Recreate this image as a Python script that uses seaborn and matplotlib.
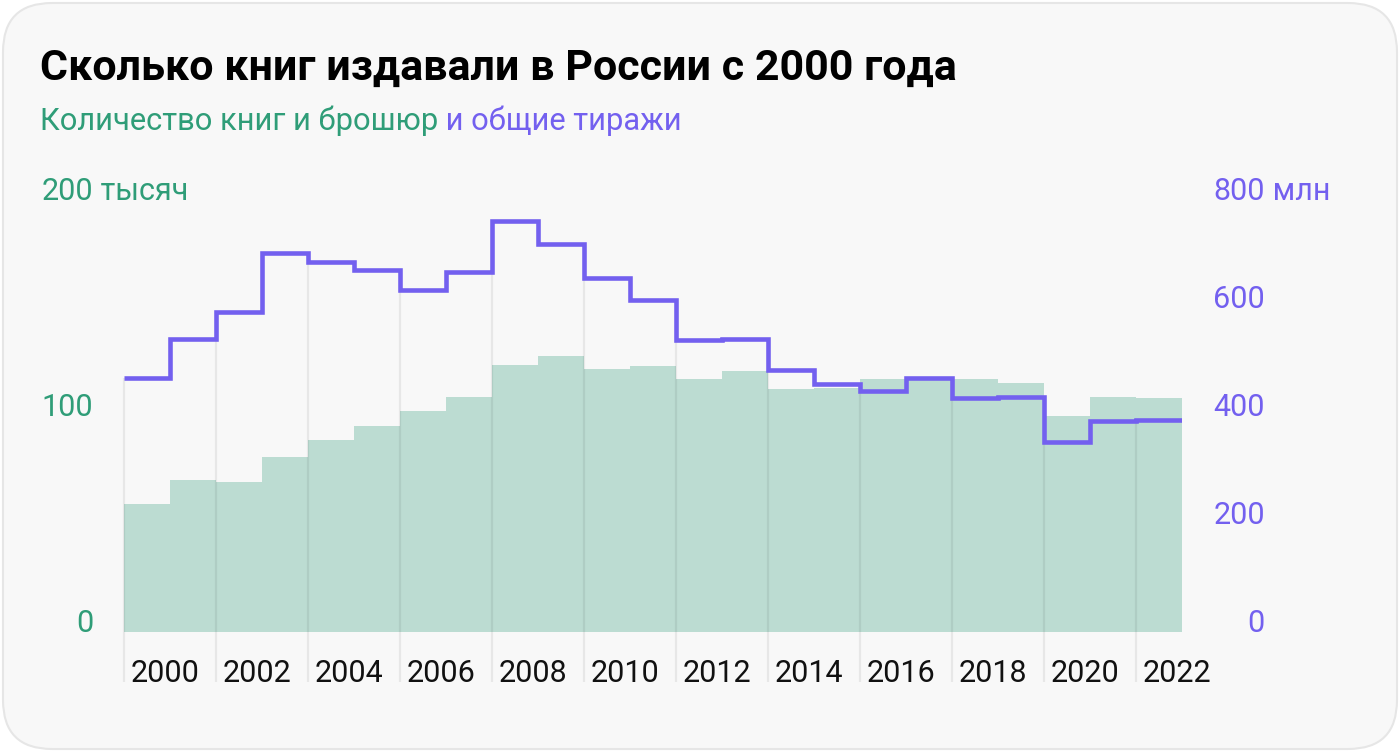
import matplotlib
matplotlib.use('Agg')
import matplotlib.pyplot as plt
import pandas as pd
import seaborn as sns
from matplotlib.patches import FancyBboxPatch
from matplotlib.transforms import offset_copy

# data
years = list(range(2000, 2023))
books_thousands = [59.3, 70.4, 69.6, 80.9, 89.0, 95.4, 102.3, 108.9, 123.6, 127.9, 121.8, 123.1,
                   117.1, 120.7, 112.4, 112.8, 117.1, 117.5, 117.0, 115.3, 99.9, 108.7, 108.2]
copies_mln = [470, 543, 593, 702, 685, 670, 633, 667, 761, 719, 656, 615,
              541, 543, 485, 460, 447, 471, 433, 436, 352, 390, 393]
label_years = list(range(2000, 2023, 2))
left_ticks = [0, 100, 200]
right_ticks = [0, 200, 400, 600, 800]

GREEN = '#2f9d78'
PURPLE = '#7360ef'
BAR = '#bcdcd2'
BG = '#f8f8f8'

sns.set_style('white')
plt.rcParams['font.family'] = ['Roboto', 'DejaVu Sans']

fig = plt.figure(figsize=(14, 7.52), dpi=100)
fig.patch.set_facecolor('white')
card = FancyBboxPatch((3 / 1400, 3 / 752), 1394 / 1400, 746 / 752,
                      boxstyle='round,pad=0,rounding_size=0.035', transform=fig.transFigure,
                      facecolor=BG, edgecolor='#e6e6e6', linewidth=1.5, zorder=-10,
                      mutation_aspect=1400 / 752)
fig.patches.append(card)

ax = fig.add_axes([124 / 1400, 1 - 632 / 752, 1058 / 1400, 432 / 752])
ax.set_facecolor('none')
df = pd.DataFrame({'year': years, 'books': books_thousands})
sns.barplot(data=df, x='year', y='books', native_scale=True, width=1, color=BAR,
            saturation=1, linewidth=0, ax=ax, zorder=1)
ax.set_xlim(years[0] - 0.5, years[-1] + 0.5)
ax.set_ylim(0, 200)

ax2 = ax.twinx()
ax2.set_ylim(0, 800)
grid_bottom = -50 / 432  # grid lines run 50px below the baseline

# vertical grid lines reach up to the step line
tops = []
for y in label_years:
    i = years.index(y)
    tops.append(copies_mln[i] if i == 0 else min(copies_mln[i - 1], copies_mln[i]))
ax2.vlines([y - 0.5 for y in label_years], grid_bottom * 800, tops,
           color=(0, 0, 0, 0.065), linewidth=1.6, clip_on=False, zorder=1)

edges = [y - 0.5 for y in years] + [years[-1] + 0.5]
step = ax2.stairs(copies_mln, edges, baseline=None, color=PURPLE, linewidth=3.3, zorder=3)
step.set_joinstyle('miter')

for a in (ax, ax2):
    for s in a.spines.values():
        s.set_visible(False)
    a.set_xticks([])
    a.set_yticks([])
    a.set_xlabel('')
    a.set_ylabel('')

# year labels, left aligned next to grid lines
lab_tr = offset_copy(ax.get_xaxis_transform(), fig=fig, x=7, y=0, units='dots')
for y in label_years:
    ax.text(y - 0.5, grid_bottom, str(y), transform=lab_tr, ha='left', va='baseline',
            fontsize=22, color='#111111')

# axis labels sit on their value line
for v in left_ticks:
    t = ax.text(-31 / 1058, v, str(v), transform=ax.get_yaxis_transform(), ha='right',
                va='baseline', fontsize=22, color=GREEN)
    if v == left_ticks[-1]:
        ax.annotate(' тысяч', xy=(1, 0), xycoords=t, ha='left', va='bottom',
                    fontsize=22, color=GREEN)
for v in right_ticks:
    t = ax2.text(1141 / 1058, v, str(v), transform=ax2.get_yaxis_transform(), ha='right',
                 va='baseline', fontsize=22, color=PURPLE)
    if v == right_ticks[-1]:
        ax2.annotate(' млн', xy=(1, 0), xycoords=t, ha='left', va='bottom',
                     fontsize=22, color=PURPLE)

fig.text(40 / 1400, 1 - 80 / 752, 'Сколько книг издавали в России с 2000 года',
         fontsize=31, fontweight='bold', color='black', ha='left', va='baseline')
sub = fig.text(40 / 1400, 1 - 130 / 752, 'Количество книг и брошюр',
               fontsize=22.2, color=GREEN, ha='left', va='baseline')
ax.annotate(' и общие тиражи', xy=(1, 0), xycoords=sub, ha='left', va='bottom',
            fontsize=22.2, color=PURPLE, annotation_clip=False)

fig.savefig('out.png', dpi=100, facecolor=fig.get_facecolor())
